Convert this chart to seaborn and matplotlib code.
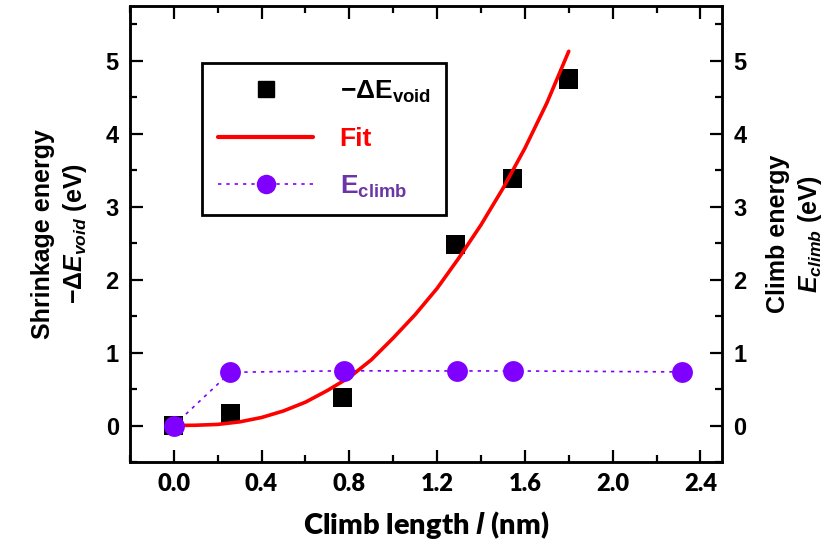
import numpy as np
import pandas as pd
import matplotlib
matplotlib.use("Agg")
import matplotlib.pyplot as plt
import seaborn as sns
from matplotlib.lines import Line2D
from matplotlib.ticker import MultipleLocator

###############################################################
# data

void_x = [0.0, 0.26, 0.77, 1.285, 1.545, 1.80]
void_e = [0.0, 0.16, 0.38, 2.48, 3.39, 4.75]

climb_x = [0.0, 0.258, 0.775, 1.29, 1.545, 2.314]
climb_e = [0.0, 0.73, 0.75, 0.748, 0.748, 0.735]

fit_x = [0.0, 0.1, 0.2, 0.3, 0.4, 0.5, 0.6, 0.7, 0.8, 0.9, 1.0,
         1.1, 1.2, 1.3, 1.4, 1.5, 1.6, 1.7, 1.8]
fit_e = [0.0, 0.004, 0.015, 0.05, 0.11, 0.2, 0.32, 0.48, 0.66, 0.9, 1.2,
         1.52, 1.88, 2.3, 2.75, 3.25, 3.8, 4.42, 5.13]

x_ticks = [0.0, 0.4, 0.8, 1.2, 1.6, 2.0, 2.4]
y_ticks = [0, 1, 2, 3, 4, 5]

df_void = pd.DataFrame({'l': void_x, 'E': void_e})
df_climb = pd.DataFrame({'l': climb_x, 'E': climb_e})
df_fit = pd.DataFrame({'l': fit_x, 'E': fit_e})

###############################################################
sns.set_style("ticks")
plt.rcParams['font.family'] = ['Liberation Sans', 'DejaVu Sans']
plt.rcParams['font.weight'] = 'bold'
plt.rcParams['axes.labelweight'] = 'bold'
plt.rcParams['text.color'] = 'black'
plt.rcParams['axes.labelcolor'] = 'black'
plt.rcParams['xtick.color'] = 'black'
plt.rcParams['ytick.color'] = 'black'
plt.rcParams['axes.edgecolor'] = 'black'
plt.rcParams['mathtext.fontset'] = 'custom'
plt.rcParams['mathtext.rm'] = 'Liberation Sans:bold'
plt.rcParams['mathtext.bf'] = 'Liberation Sans:bold'
plt.rcParams['mathtext.it'] = 'Liberation Sans:italic:bold'

violet = '#8000ff'

fig = plt.figure(figsize=(8.38, 5.5), dpi=100)
ax = fig.add_axes([0.155, 0.16, 0.707, 0.829])

sns.lineplot(data=df_fit, x='l', y='E', color='red', lw=2.6, ax=ax, zorder=3)
sns.scatterplot(data=df_void, x='l', y='E', marker='s', s=190, color='black',
                edgecolor='none', ax=ax, zorder=2)
ax.plot(df_climb['l'], df_climb['E'], color=violet, lw=1.2, ls=(0, (2, 3)),
        marker='o', ms=15, mec='none', zorder=4)

ax.set_xlim(-0.2, 2.5)
ax.set_ylim(-0.5, 5.75)
ax.set_xticks(x_ticks)
ax.set_yticks(y_ticks)
ax.xaxis.set_minor_locator(MultipleLocator(0.2))
ax.yaxis.set_minor_locator(MultipleLocator(0.5))
ax.set_xticklabels([f"{v:.1f}" for v in x_ticks], family='Lato', fontweight='heavy', fontsize=17)
ax.set_yticklabels([str(v) for v in y_ticks], fontsize=17, fontweight='bold')
ax.tick_params(which='both', direction='in', top=True, right=False, width=1.6, pad=8)
ax.tick_params(which='major', length=9)
ax.tick_params(which='minor', length=5)
for sp in ax.spines.values():
    sp.set_linewidth(1.8)

ax.set_xlabel(r"Climb length $\mathit{l}$ (nm)", family='Lato', fontweight='heavy',
              fontsize=21, labelpad=10)
ax.set_ylabel("Shrinkage energy\n" + r"$-\Delta \mathit{E_{void}}$ (eV)", fontsize=18,
              fontweight='bold', labelpad=12, linespacing=1.3)

ax2 = ax.twinx()
ax2.set_ylim(ax.get_ylim())
ax2.set_yticks(y_ticks)
ax2.yaxis.set_minor_locator(MultipleLocator(0.5))
ax2.set_yticklabels([str(v) for v in y_ticks], fontsize=17, fontweight='bold')
ax2.tick_params(which='both', direction='in', width=1.6, pad=8)
ax2.tick_params(which='major', length=9)
ax2.tick_params(which='minor', length=5)
ax2.set_ylabel("Climb energy\n" + r"$\mathit{E_{climb}}$ (eV)", fontsize=18,
               fontweight='bold', rotation=90, labelpad=14, linespacing=1.3)
for sp in ax2.spines.values():
    sp.set_linewidth(1.8)

handles = [
    Line2D([], [], color='black', marker='s', ms=12, ls='none'),
    Line2D([], [], color='red', lw=3),
    Line2D([], [], color=violet, lw=1.2, ls=(0, (2, 3)), marker='o', ms=14, mec='none'),
]
labels = [r"$-\Delta$E$_{\mathbf{void}}$", "Fit", r"E$_{\mathbf{climb}}$"]
leg = ax.legend(handles, labels, loc='upper left', bbox_to_anchor=(0.10, 0.905),
                fontsize=19, handlelength=3.6, handletextpad=1.0, labelspacing=0.85,
                borderpad=0.6, fancybox=False, edgecolor='black', framealpha=1)
leg.get_frame().set_linewidth(2)
leg.get_texts()[1].set_color('red')
leg.get_texts()[2].set_color('#6a35a8')

fig.savefig("out.png", dpi=100)
